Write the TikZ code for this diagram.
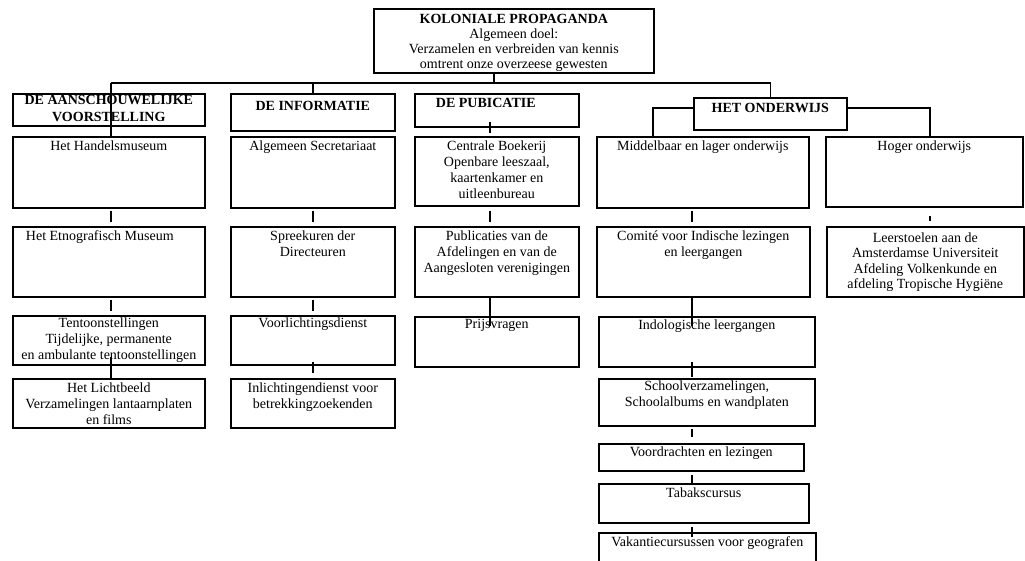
\documentclass[tikz,border=0pt]{standalone}
\usepackage{fontspec}
\setmainfont{Liberation Serif}
\usepackage{xcolor}

% text of a box: [first baseline]{width}{height}{lines}
\newcommand{\cellbox}[4][14]{\parbox[t][#3pt][t]{#2pt}{\centering\rule{0pt}{#1pt}#4}}

\tikzset{
  cell/.style={draw, line width=1.6pt, anchor=north west, inner sep=0pt, font=\fontsize{14pt}{16pt}\selectfont},
  head/.style={cell, font=\fontsize{14pt}{16.5pt}\selectfont\bfseries},
  link/.style={line width=1.5pt},
  stub/.style={link, shorten <=2pt, shorten >=4pt},
}

\begin{document}
\begin{tikzpicture}[x=1pt,y=1pt,yscale=-1,xscale=1]
        \useasboundingbox (0,0) rectangle (1025,561);
        \clip (0,0) rectangle (1025,561);

        % Top box
        \node [cell, font=\fontsize{14pt}{15pt}\selectfont] (kp) at (373,8) {\cellbox[14.5]{280}{64}{\textbf{KOLONIALE PROPAGANDA}\\ Algemeen doel:\\ Verzamelen en verbreiden van kennis\\ omtrent onze overzeese gewesten}};

        % Headers
        \node [head] (aan) at (12,93) {\cellbox[11]{192}{32}{DE AANSCHOUWELIJKE\\ VOORSTELLING}};
        \node [head] (info) at (230,93) {\cellbox[17]{164}{37}{DE INFORMATIE}};
        \node [head] (pub) at (414,93) {\cellbox[13.5]{164}{33}{DE PUBICATIE\hspace*{22pt}}};
        \node [head] (ond) at (693,97) {\cellbox[14.5]{153}{32}{HET ONDERWIJS}};

        % Row 2
        \node [cell] (handel) at (12,136) {\cellbox{192}{71}{Het Handelsmuseum}};
        \node [cell] (secr) at (230,136) {\cellbox{164}{71}{Algemeen Secretariaat}};
        \node [cell] (boek) at (414,136) {\cellbox{164}{69}{Centrale Boekerij\\ Openbare leeszaal,\\ kaartenkamer en\\ uitleenbureau}};
        \node [cell] (middel) at (596,136) {\cellbox{212}{71}{Middelbaar en lager onderwijs}};
        \node [cell] (hoger) at (825,136) {\cellbox{197}{70}{Hoger onderwijs}};

        % Row 3
        \node [cell] (etno) at (12,226) {\cellbox{192}{70}{Het Etnografisch Museum\hspace*{18pt}}};
        \node [cell] (spreek) at (230,226) {\cellbox{164}{70}{Spreekuren der\\ Directeuren}};
        \node [cell] (publ) at (414,226) {\cellbox{164}{70}{Publicaties van de\\ Afdelingen en van de\\ Aangesloten verenigingen}};
        \node [cell] (comite) at (596,226) {\cellbox{213}{70}{Comité voor Indische lezingen\\ en leergangen}};
        \node [cell, font=\fontsize{14pt}{15.5pt}\selectfont] (leer) at (826,226) {\cellbox[15.5]{197}{70}{Leerstoelen aan de\\ Amsterdamse Universiteit\\ Afdeling Volkenkunde en\\ afdeling Tropische Hygiëne}};

        % Row 4
        \node [cell] (tent) at (12,315) {\cellbox[12]{192}{49}{Tentoonstellingen\\ Tijdelijke, permanente\\ en ambulante tentoonstellingen}};
        \node [cell] (voorl) at (230,315) {\cellbox[12]{164}{49}{Voorlichtingsdienst}};
        \node [cell] (prijs) at (414,316) {\cellbox[12]{164}{50}{Prijsvragen}};
        \node [cell] (indo) at (598,316) {\cellbox[13]{216}{50}{Indologische leergangen}};

        % Row 5
        \node [cell] (licht) at (12,378) {\cellbox[13.5]{192}{49}{Het Lichtbeeld\\ Verzamelingen lantaarnplaten\\ en films}};
        \node [cell] (inlicht) at (230,378) {\cellbox{164}{49}{Inlichtingendienst voor\\ betrekkingzoekenden}};
        \node [cell, font=\fontsize{14pt}{15.5pt}\selectfont] (school) at (598,378) {\cellbox[12]{216}{47}{Schoolverzamelingen,\\ Schoolalbums en wandplaten}};

        % Onderwijs column, lower part
        \node [cell] (voordr) at (598,443) {\cellbox[13]{205}{27}{Voordrachten en lezingen}};
        \node [cell] (tabak) at (598,483) {\cellbox[13.5]{210}{39}{Tabakscursus}};
        \node [cell] (vak) at (598,532) {\cellbox[14]{217}{40}{Vakantiecursussen voor geografen}};

        % Connectors
        \coordinate (busL) at (111,83);
        \coordinate (colB) at (313,0);
        \coordinate (colC) at (490,0);
        \coordinate (colL) at (653,0);
        \coordinate (colD) at (692,0);
        \coordinate (colE) at (930,0);

        \draw [link] ([xshift=-20pt]kp.south) -- ([xshift=-20pt]kp.south |- busL);
        \draw [link] (busL) -- (ond.north |- busL) -- (ond.north);
        \draw [link] (busL) -- (busL |- handel.north);
        \draw [link] (colB |- busL) -- (colB |- info.north);
        \draw [link] ([yshift=-6pt]ond.west) -| (colL |- middel.north);
        \draw [link] ([yshift=-6pt]ond.east) -| (colE |- hoger.north);

        \draw [stub] (busL |- handel.south) -- (busL |- etno.north);
        \draw [stub] (busL |- etno.south) -- (busL |- tent.north);
        \draw [link, shorten <=-9pt] (busL |- tent.south) -- (busL |- licht.north);

        \draw [stub] (colB |- secr.south) -- (colB |- spreek.north);
        \draw [stub] (colB |- spreek.south) -- (colB |- voorl.north);
        \draw [link, shorten <=-4pt, shorten >=5pt] (colB |- voorl.south) -- (colB |- inlicht.north);

        \draw [link, shorten <=-6pt, shorten >=3pt] (colC |- pub.south) -- (colC |- boek.north);
        \draw [stub, shorten <=4pt] (colC |- boek.south) -- (colC |- publ.north);
        \draw [link, shorten >=-10pt] (colC |- publ.south) -- (colC |- prijs.north);

        \draw [stub] (colD |- middel.south) -- (colD |- comite.north);
        \draw [link, shorten >=-10pt] (colD |- comite.south) -- (colD |- indo.north);
        \draw [link, shorten <=-6pt, shorten >=1pt] (colD |- indo.south) -- (colD |- school.north);
        \draw [link, shorten <=2pt, shorten >=6pt] (colD |- school.south) -- (colD |- voordr.north);
        \draw [link, shorten <=3pt] (colD |- voordr.south) -- (colD |- tabak.north);
        \draw [link, shorten <=3pt, shorten >=-5pt] (colD |- tabak.south) -- (colD |- vak.north);

        \draw [link, shorten <=8pt, shorten >=5pt] (colE |- hoger.south) -- (colE |- leer.north);

\end{tikzpicture}
\end{document}
